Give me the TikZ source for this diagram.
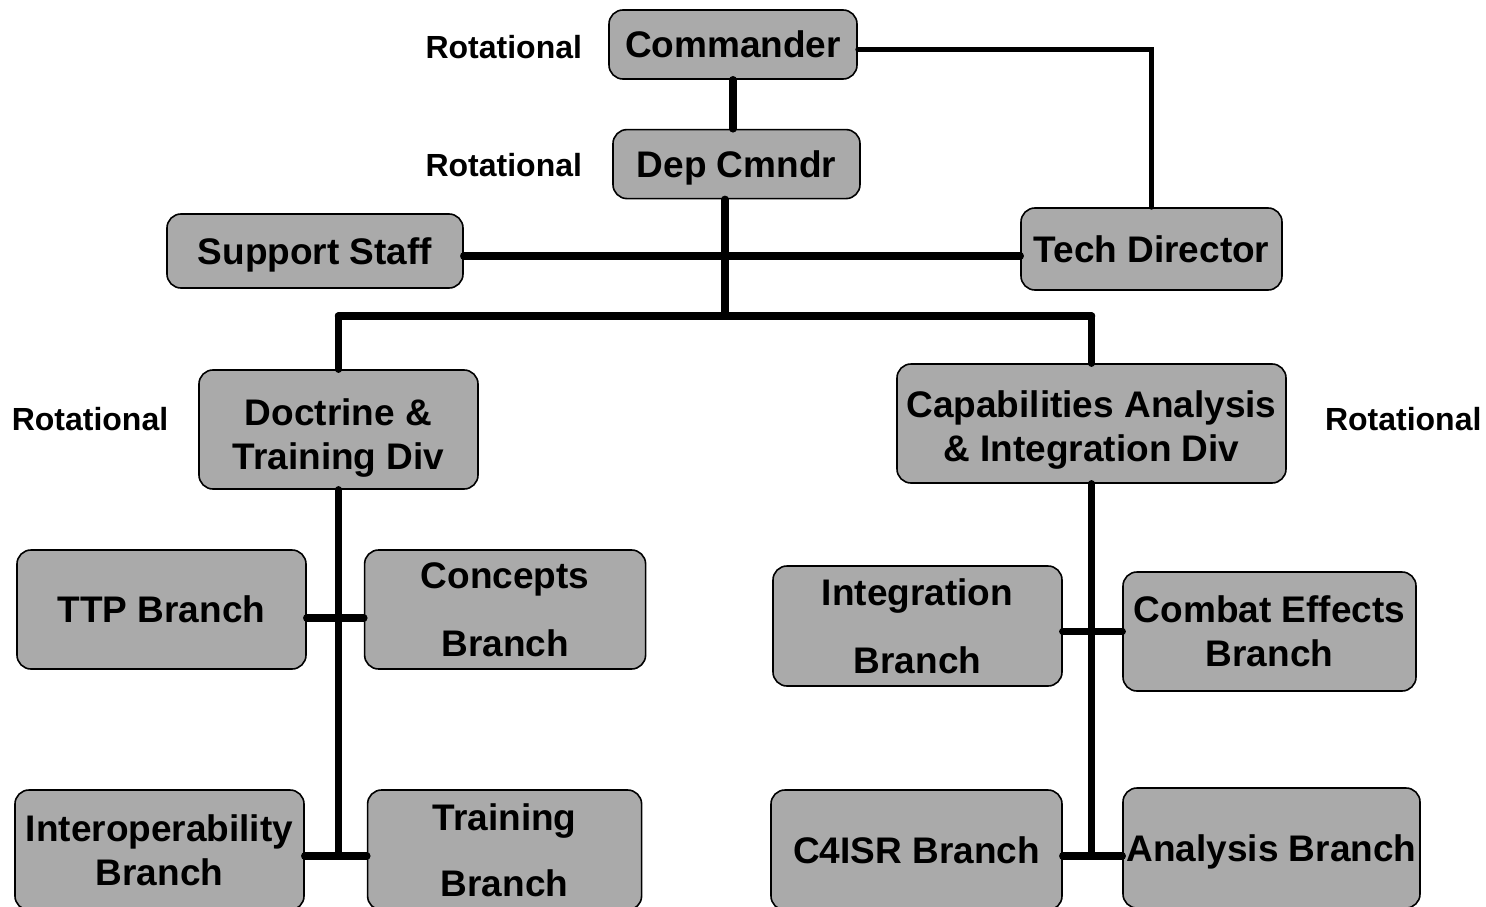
\documentclass[tikz,border=0pt]{standalone}
\usepackage{fontspec}
\setmainfont{Liberation Sans}
\usepackage{tikz}
\usetikzlibrary{positioning, calc}
\definecolor{boxGray}{RGB}{170, 170, 170}

\begin{document}
\begin{tikzpicture}[
    x=1pt, y=1pt,
    orgbox/.style={
        rectangle,
        rounded corners=14pt,
        draw=black,
        line width=1.6pt,
        fill=boxGray,
        inner sep=0pt,
        align=center,
        text depth=-3pt,
        font=\fontsize{37}{44}\selectfont\bfseries
    },
    rotlabel/.style={
        inner sep=0pt,
        font=\fontsize{32}{38}\selectfont\bfseries
    },
    link/.style={line width=7.5pt, line cap=round},
    thinlink/.style={line width=5pt, line cap=round}
]
    \useasboundingbox (0,0) rectangle (1486,-907);
    \clip (0,0) rectangle (1486,-907);

    % command group
    \node[orgbox, minimum width=248pt, minimum height=69pt] (cmdr) at (733,-44.5) {Commander};
    \node[orgbox, minimum width=247pt, minimum height=69pt, below=49pt of cmdr, xshift=3.5pt] (dep) {Dep Cmndr};
    \node[rotlabel, left=26pt of cmdr, yshift=-2.5pt] (rotcmdr) {Rotational};
    \node[rotlabel, left=30pt of dep, yshift=-1pt] (rotdep) {Rotational};

    \node[orgbox, minimum width=296pt, minimum height=74pt] (support) at (315,-251) {Support Staff};
    \node[orgbox, minimum width=261pt, minimum height=82pt] (tech) at (1151.5,-249) {Tech Director};

    % divisions
    \node[orgbox, minimum width=279pt, minimum height=119pt] (doct) at (338.5,-429.5) {\rule{0pt}{35pt}Doctrine \&\\Training Div};
    \node[orgbox, minimum width=389pt, minimum height=119pt] (capa) at (1091.5,-423.5) {\rule{0pt}{31pt}Capabilities Analysis\\\& Integration Div};
    \node[rotlabel] (rotdoct) at (90,-419) {Rotational};
    \node[rotlabel, right=38pt of capa, yshift=4.5pt] (rotcapa) {Rotational};

    % branches
    \node[orgbox, minimum width=289pt, minimum height=119pt] (ttp) at (161.5,-609.5) {TTP Branch};
    \node[orgbox, minimum width=281pt, minimum height=119pt, right=57pt of ttp] (conc) {Concepts\\[24pt]Branch};
    \node[orgbox, minimum width=289pt, minimum height=120pt] (interop) at (159.5,-850) {Interoperability\\Branch};
    \node[orgbox, minimum width=274pt, minimum height=120pt, right=62pt of interop] (train) {Training\\[22pt]Branch};

    \node[orgbox, minimum width=289pt, minimum height=120pt] (integ) at (917.5,-626) {Integration\\[24pt]Branch};
    \node[orgbox, minimum width=293pt, minimum height=119pt] (combat) at (1269.5,-631.5) {Combat Effects\\Branch};
    \node[orgbox, minimum width=291pt, minimum height=120pt] (c4isr) at (916.5,-850) {C4ISR Branch};
    \node[orgbox, minimum width=297pt, minimum height=120pt] (anal) at (1271.5,-848) {Analysis Branch};

    \coordinate (staffbus) at (0,-256);
    \coordinate (topbus) at (725,-316);
    \coordinate (lowbus) at (0,-856);

    \draw[link] (cmdr.south) -- (cmdr.south |- dep.north);
    \draw[thinlink] ([yshift=-5pt]cmdr.east) -| (tech.north);
    \draw[link] (support.east |- staffbus) -- (tech.west |- staffbus);
    \draw[link] (topbus |- dep.south) -- (topbus);
    \draw[link] (doct.north |- topbus) -- (capa.north |- topbus);
    \draw[link] (doct.north |- topbus) -- (doct.north);
    \draw[link] (capa.north |- topbus) -- (capa.north);

    \draw[link] (doct.south) -- (doct.south |- lowbus);
    \draw[link] ([yshift=-8.5pt]ttp.east) -- ([yshift=-8.5pt]conc.west);
    \draw[link] (interop.east |- lowbus) -- (train.west |- lowbus);

    \draw[link] (capa.south) -- (capa.south |- lowbus);
    \draw[link] (integ.east |- combat.west) -- (combat.west);
    \draw[link] (c4isr.east |- lowbus) -- (anal.west |- lowbus);

\end{tikzpicture}
\end{document}
